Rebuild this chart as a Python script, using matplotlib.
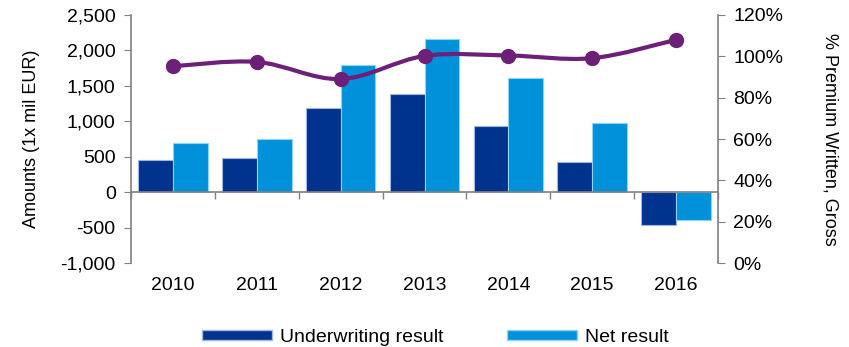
import matplotlib.pyplot as plt
import numpy as np
from matplotlib.path import Path
from matplotlib.patches import PathPatch, Patch
from matplotlib.ticker import FuncFormatter, PercentFormatter
import matplotlib.transforms as mtransforms

plt.rcParams['font.family'] = ['Liberation Sans', 'DejaVu Sans']

years = ['2010', '2011', '2012', '2013', '2014', '2015', '2016']
underwriting = [450, 480, 1190, 1380, 930, 420, -470]
net_result = [700, 750, 1800, 2160, 1610, 970, -390]
premium_pct = [95.2, 97.3, 89.0, 100.2, 100.4, 99.1, 108.0]

uw_color = '#00338D'
net_color = '#0091DA'
line_color = '#6D2077'
axis_grey = '#808080'
tick_fs = 14


def smooth_path(xs, ys):
    # cubic bezier through every point, control points from neighbours
    pts = np.column_stack([xs, ys]).astype(float)
    verts = [pts[0]]
    codes = [Path.MOVETO]
    n = len(pts)
    for i in range(n - 1):
        p0 = pts[max(i - 1, 0)]
        p1 = pts[i]
        p2 = pts[i + 1]
        p3 = pts[min(i + 2, n - 1)]
        c1 = p1 + (p2 - p0) / 6.0
        c2 = p2 - (p3 - p1) / 6.0
        verts += [c1, c2, p2]
        codes += [Path.CURVE4] * 3
    return Path(verts, codes)


fig = plt.figure(figsize=(8.49, 3.47), dpi=100)
ax = fig.add_axes([0.1543, 0.242, 0.6914, 0.7148])

x = np.arange(len(years))
width = 0.415
ax.bar(x - width / 2, underwriting, width, color=uw_color, edgecolor='#9fb6e0', linewidth=0.8, zorder=2)
ax.bar(x + width / 2, net_result, width, color=net_color, edgecolor='#8fd3f5', linewidth=0.8, zorder=2)

ax.set_xlim(-0.5, len(years) - 0.5)
ax.set_ylim(-1000, 2500)
ax.set_yticks(np.arange(-1000, 2501, 500))
ax.yaxis.set_major_formatter(FuncFormatter(lambda v, p: '{:,.0f}'.format(v)))
ax.set_ylabel('Amounts (1x mil EUR)', fontsize=13, labelpad=15)

# category boundary ticks on the zero line, year labels below the plot
ax.spines['bottom'].set_position(('data', 0))
ax.set_xticks(np.arange(-0.5, len(years), 1.0))
ax.set_xticklabels([])
ax.tick_params(axis='x', direction='out', length=5, color=axis_grey, width=1)
trans = mtransforms.blended_transform_factory(ax.transData, ax.transAxes)
for xi, yr in zip(x, years):
    ax.text(xi, -0.09, yr, transform=trans, ha='center', va='center', fontsize=tick_fs)

ax.tick_params(axis='y', direction='out', length=5, color=axis_grey, labelsize=tick_fs, pad=6)
for side in ['top', 'right']:
    ax.spines[side].set_visible(False)
ax.spines['left'].set_color(axis_grey)
ax.spines['bottom'].set_color(axis_grey)
ax.spines['left'].set_linewidth(1.2)
ax.spines['bottom'].set_linewidth(1.2)

ax2 = ax.twinx()
ax2.set_ylim(0, 120)
ax2.set_yticks(np.arange(0, 121, 20))
ax2.yaxis.set_major_formatter(PercentFormatter(decimals=0))
ax2.tick_params(axis='y', direction='out', length=5, color=axis_grey, labelsize=tick_fs, pad=6)
for side in ['top', 'left', 'bottom']:
    ax2.spines[side].set_visible(False)
ax2.spines['right'].set_color(axis_grey)
ax2.spines['right'].set_linewidth(1.2)
ax2.set_ylabel('% Premium Written, Gross', fontsize=13, rotation=270, labelpad=40)

ax2.add_patch(PathPatch(smooth_path(x, premium_pct), facecolor='none',
                        edgecolor=line_color, linewidth=3, zorder=3))
ax2.plot(x, premium_pct, linestyle='none', marker='o', markersize=10,
         color=line_color, zorder=4)

handles = [Patch(facecolor=uw_color, edgecolor='#9fb6e0'),
           Patch(facecolor=net_color, edgecolor='#8fd3f5')]
fig.legend(handles, ['Underwriting result', 'Net result'], loc='center',
           bbox_to_anchor=(0.513, 0.028), ncol=2, frameon=False, fontsize=tick_fs,
           handlelength=3.6, handleheight=0.45, columnspacing=3.3, handletextpad=0.4)

fig.savefig('out.png', dpi=100)
